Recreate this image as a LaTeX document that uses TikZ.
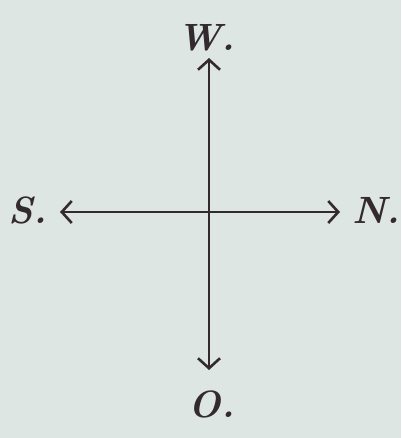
\documentclass[tikz,border=0pt]{standalone}
\usepackage{tikz}
\usetikzlibrary{arrows.meta}
\definecolor{paper}{RGB}{222,230,227}
\definecolor{ink}{RGB}{50,42,46}

\tikzset{
  dirarrow/.style={-{Straight Barb[length=10pt,width=22pt]}, line width=2.6pt, draw=ink},
  dirlabel/.style={font=\fontsize{38}{38}\selectfont\bfseries\itshape, text=ink}
}

\begin{document}
\begin{tikzpicture}[x=1pt, y=-1pt]
  % Paper
  \fill[paper] (0,0) rectangle (401,438);
  \useasboundingbox (0,0) rectangle (401,438);
  % Centre and arrow tips
  \coordinate (c) at (209,212);
  \coordinate (tw) at (209,58);
  \coordinate (to) at (209,370);
  \coordinate (ts) at (60,212);
  \coordinate (tn) at (340,212);
  % Compass labels
  \node[dirlabel] (w) at (206,38) {W.};
  \node[dirlabel] (s) at (28,210) {S.};
  \node[dirlabel] (n) at (376,210) {N.};
  \node[dirlabel] (o) at (212,404) {O.};
  % Arrows out from the centre
  \draw[dirarrow] (c) -- (tw);
  \draw[dirarrow] (c) -- (to);
  \draw[dirarrow] (c) -- (ts);
  \draw[dirarrow] (c) -- (tn);
\end{tikzpicture}
\end{document}
